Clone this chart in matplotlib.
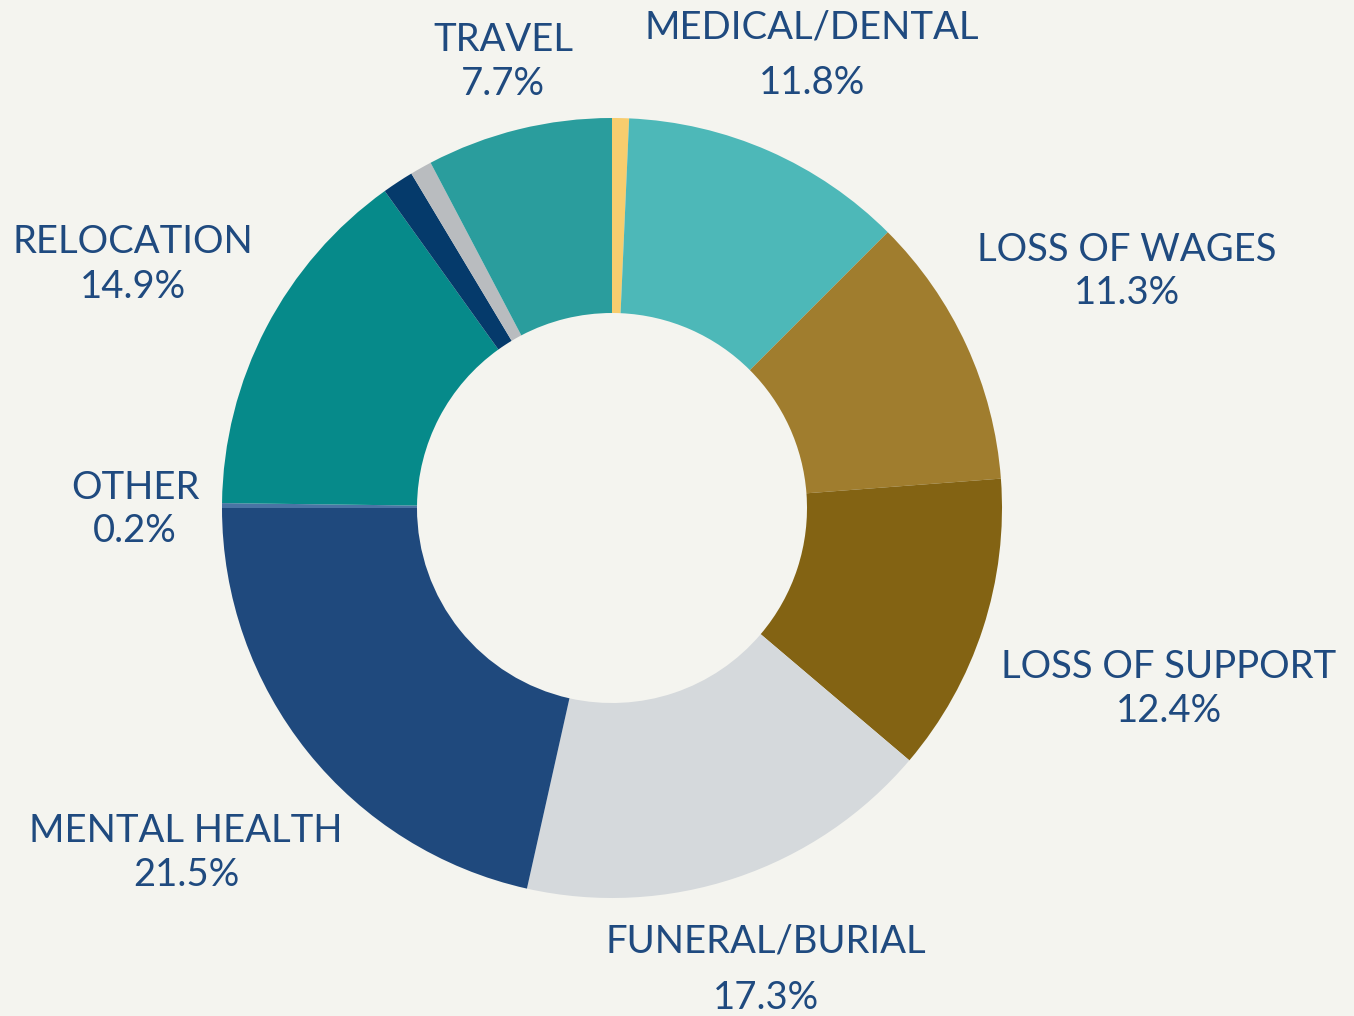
import matplotlib
matplotlib.use("Agg")
import matplotlib.pyplot as plt

# slice shares, clockwise from 12 o'clock
slice_names = ["(small)", "MEDICAL/DENTAL", "LOSS OF WAGES", "LOSS OF SUPPORT",
               "FUNERAL/BURIAL", "MENTAL HEALTH", "OTHER", "RELOCATION",
               "(small 2)", "(small 3)", "TRAVEL"]
slice_values = [0.7, 11.8, 11.3, 12.4, 17.3, 21.5, 0.2, 14.9, 1.3, 0.9, 7.7]
slice_colors = ["#F8CD6E", "#4DB8B8", "#A07D2E", "#836313", "#D5D9DC", "#1F497D",
                "#4A74A4", "#068A8A", "#053A6B", "#B9BCBF", "#2A9D9D"]

# label text as printed on the chart
label_names = ["TRAVEL", "MEDICAL/DENTAL", "LOSS OF WAGES", "LOSS OF SUPPORT",
               "FUNERAL/BURIAL", "MENTAL HEALTH", "OTHER", "RELOCATION"]
label_pcts = ["7.7%", "11.8%", "11.3%", "12.4%", "17.3%", "21.5%", "0.2%", "14.9%"]
# label anchor (pixel x, y of first line, y of second line)
label_pos = [(503, 40, 84), (812, 28, 83), (1127, 250, 293), (1169, 667, 711),
             (766, 942, 998), (186, 831, 875), (135, 488, 531), (133, 242, 287)]

W, H = 1354, 1016
BG = "#F4F4EF"
TXT = "#1F4A7F"

fig = plt.figure(figsize=(W / 100, H / 100), dpi=100, facecolor=BG)
ax = fig.add_axes([0, 0, 1, 1])
ax.set_facecolor(BG)
ax.axis("off")

ax.pie(slice_values, colors=slice_colors, startangle=90, counterclock=False,
       center=(612, H - 508), radius=390,
       wedgeprops=dict(width=195, linewidth=0, antialiased=True))
ax.set_xlim(0, W)
ax.set_ylim(0, H)
ax.set_aspect("equal")

for name, pct, (x, y1, y2) in zip(label_names, label_pcts, label_pos):
    ax.text(x, H - y1, name, ha="center", va="center", fontsize=27.5,
            color=TXT, family="Lato")
    ax.text(x, H - y2, pct, ha="center", va="center", fontsize=27.5,
            color=TXT, family="Lato")

fig.savefig("out.png", dpi=100, facecolor=BG)
